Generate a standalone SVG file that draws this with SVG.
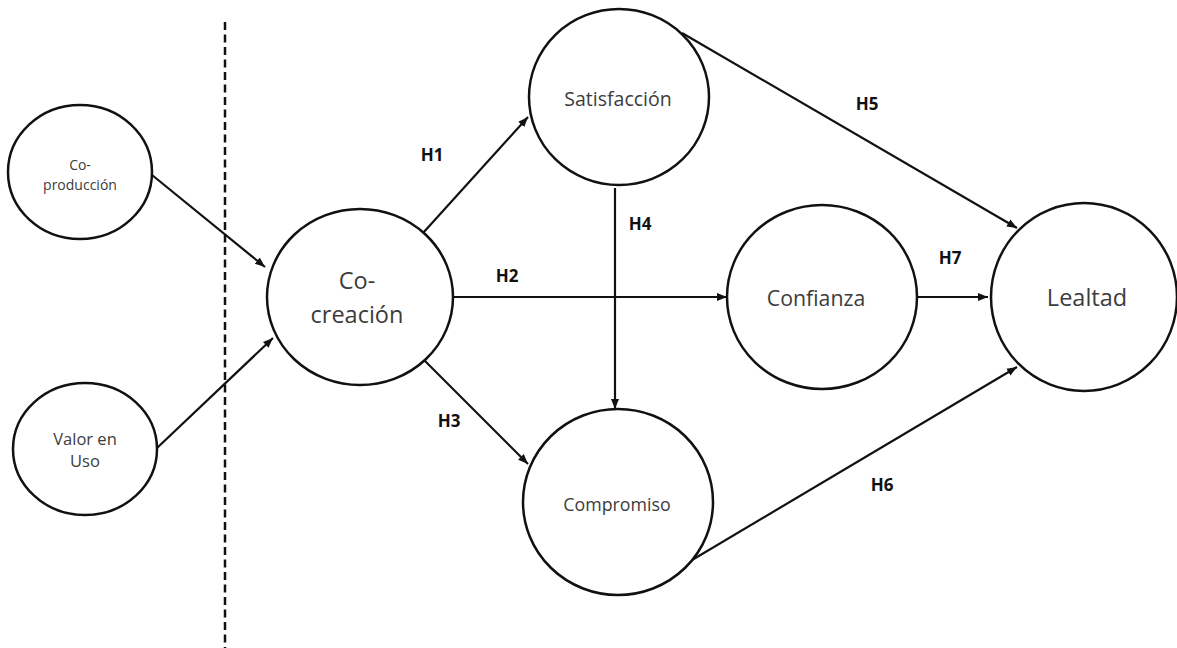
<svg xmlns="http://www.w3.org/2000/svg" width="1177" height="648" viewBox="0 0 1177 648">
<style>
.node{fill:#fff;stroke:#111;stroke-width:2.5}
.lbl{font-family:"Open Sans","Noto Sans",sans-serif;fill:#3c3c3c;text-anchor:middle}
.h{font-family:"Open Sans","Noto Sans",sans-serif;font-weight:bold;font-size:17px;fill:#111;text-anchor:middle}
.edge{stroke:#111;stroke-width:2.2;fill:none;marker-end:url(#arr)}
</style>
<defs>
<marker id="arr" markerUnits="userSpaceOnUse" markerWidth="10" markerHeight="10" viewBox="0 0 10 10" refX="10" refY="5" orient="auto">
<path d="M0,1 L10,5 L0,9 Z" fill="#111"/>
</marker>
</defs>
<rect width="1177" height="648" fill="#fff"/>
<line x1="225" y1="22" x2="225" y2="648" stroke="#111" stroke-width="2.5" stroke-dasharray="8 4.5"/>
<g id="connectors">
<line class="edge" x1="152" y1="175" x2="265" y2="267"/>
<line class="edge" x1="157" y1="448" x2="273" y2="338"/>
<line class="edge" x1="423" y1="233" x2="528" y2="117"/>
<line class="edge" x1="452" y1="297" x2="727" y2="297"/>
<line class="edge" x1="424" y1="360" x2="528" y2="464"/>
<line class="edge" x1="615" y1="188" x2="615" y2="409"/>
<line class="edge" x1="682" y1="33" x2="1017" y2="228"/>
<line class="edge" x1="687" y1="563" x2="1017" y2="367"/>
<line class="edge" x1="918" y1="297" x2="988" y2="297"/>
<text class="h" x="432" y="161">H1</text>
<text class="h" x="507" y="282">H2</text>
<text class="h" x="449" y="427">H3</text>
<text class="h" x="640" y="230">H4</text>
<text class="h" x="867" y="110">H5</text>
<text class="h" x="882" y="491">H6</text>
<text class="h" x="950" y="264">H7</text>
</g>
<g id="coproduccion">
<ellipse class="node" cx="80" cy="172" rx="72" ry="67"/>
<text class="lbl" font-size="14" x="80" y="170">Co-</text>
<text class="lbl" font-size="14" x="80" y="190">producción</text>
</g>
<g id="valorenuso">
<ellipse class="node" cx="85" cy="449" rx="72" ry="66"/>
<text class="lbl" font-size="16.5" x="85" y="445">Valor en</text>
<text class="lbl" font-size="16.5" x="85" y="467">Uso</text>
</g>
<g id="cocreacion">
<ellipse class="node" cx="360" cy="297" rx="93" ry="88"/>
<text class="lbl" font-size="23.5" x="357" y="289">Co-</text>
<text class="lbl" font-size="23.5" x="357" y="323">creación</text>
</g>
<g id="satisfaccion">
<ellipse class="node" cx="619" cy="97" rx="90" ry="88"/>
<text class="lbl" font-size="19.5" x="618" y="106">Satisfacción</text>
</g>
<g id="compromiso">
<ellipse class="node" cx="618" cy="502" rx="95" ry="93"/>
<text class="lbl" font-size="17.8" x="617" y="511">Compromiso</text>
</g>
<g id="confianza">
<ellipse class="node" cx="822" cy="297" rx="95" ry="92"/>
<text class="lbl" font-size="21.3" x="816" y="306">Confianza</text>
</g>
<g id="lealtad">
<ellipse class="node" cx="1084" cy="297" rx="93" ry="94"/>
<text class="lbl" font-size="23.5" x="1087" y="306">Lealtad</text>
</g>
</svg>
